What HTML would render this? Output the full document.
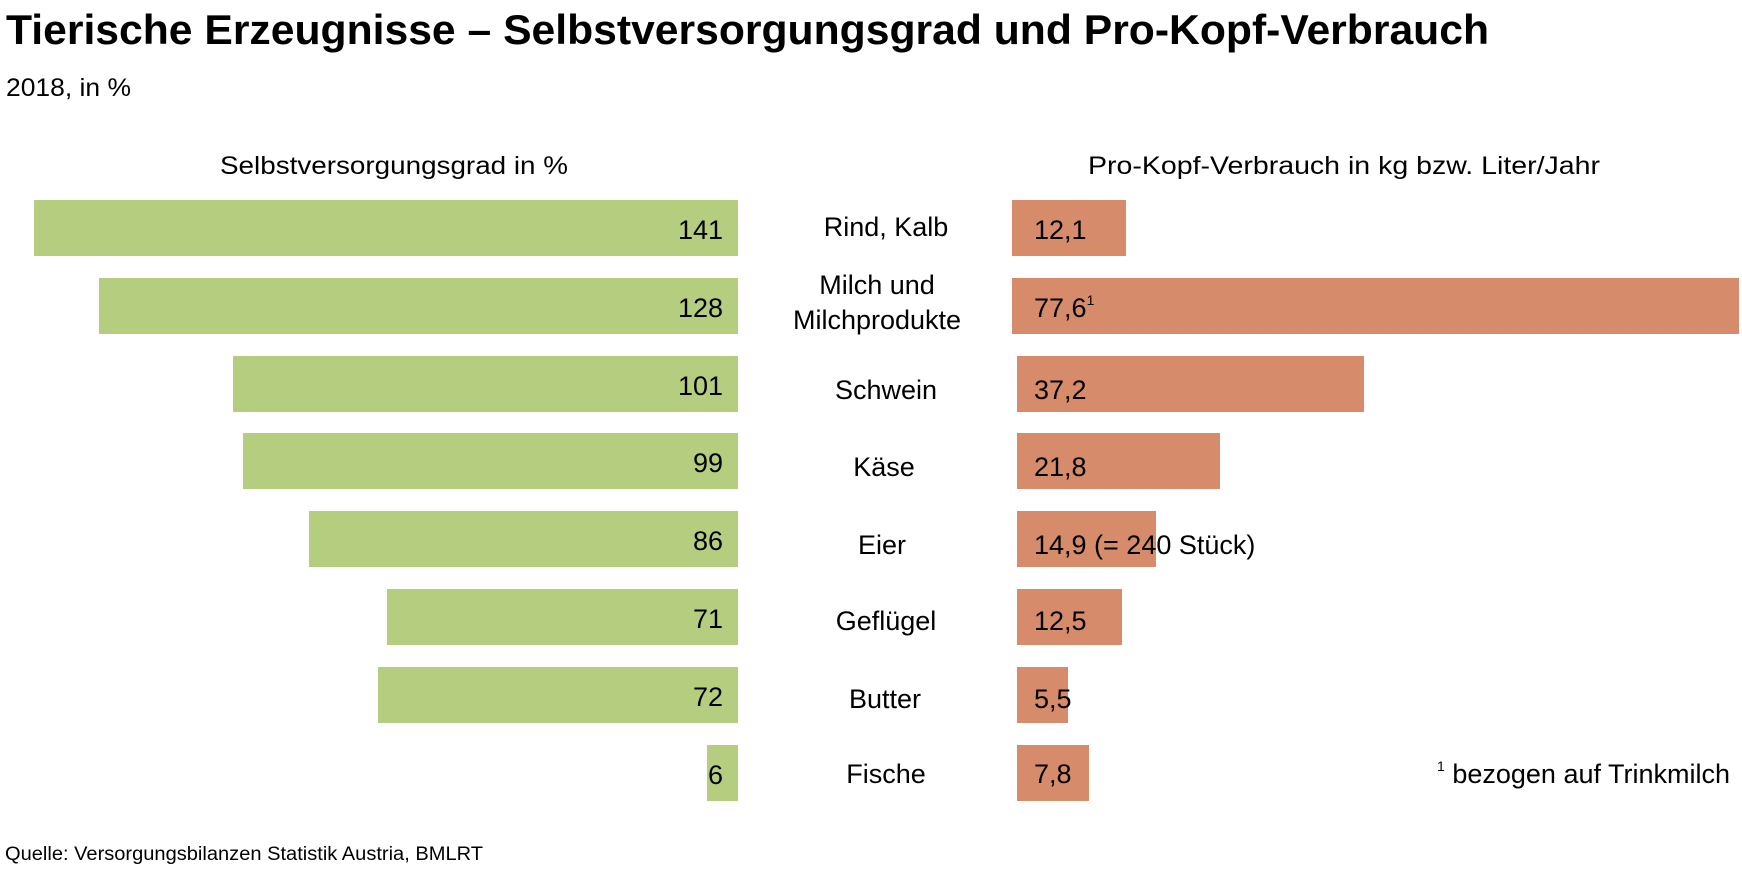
<!DOCTYPE html>
<html><head><meta charset="utf-8"><style>
html,body{margin:0;padding:0;background:#fff;}
svg text{font-family:"Liberation Sans",sans-serif;fill:#000;}
</style></head><body>
<svg width="1742" height="867" viewBox="0 0 1742 867" xmlns="http://www.w3.org/2000/svg">
<text x="6" y="44" font-size="42" font-weight="bold" textLength="1483" lengthAdjust="spacingAndGlyphs">Tierische Erzeugnisse – Selbstversorgungsgrad und Pro-Kopf-Verbrauch</text>
<text x="6" y="96" font-size="25" textLength="125" lengthAdjust="spacingAndGlyphs">2018, in %</text>
<text x="394" y="174" font-size="25" text-anchor="middle" textLength="348" lengthAdjust="spacingAndGlyphs">Selbstversorgungsgrad in %</text>
<text x="1344" y="174" font-size="25" text-anchor="middle" textLength="512" lengthAdjust="spacingAndGlyphs">Pro-Kopf-Verbrauch in kg bzw. Liter/Jahr</text>
<g fill="#b5cd7f">
<rect x="34" y="200" width="704" height="56"/>
<rect x="99" y="278" width="639" height="56"/>
<rect x="233" y="356" width="505" height="56"/>
<rect x="243" y="433" width="495" height="56"/>
<rect x="309" y="511" width="429" height="56"/>
<rect x="387" y="589" width="351" height="56"/>
<rect x="378" y="667" width="360" height="56"/>
<rect x="707" y="745" width="31" height="56"/>
</g>
<g fill="#d68b6a">
<rect x="1012" y="200" width="114" height="56"/>
<rect x="1012" y="278" width="727" height="56"/>
<rect x="1017" y="356" width="347" height="56"/>
<rect x="1017" y="433" width="203" height="56"/>
<rect x="1017" y="511" width="139" height="56"/>
<rect x="1017" y="589" width="105" height="56"/>
<rect x="1017" y="667" width="51" height="56"/>
<rect x="1017" y="745" width="72" height="56"/>
</g>
<g font-size="27" text-anchor="end">
<text x="723" y="239">141</text>
<text x="723" y="317">128</text>
<text x="723" y="395">101</text>
<text x="723" y="472">99</text>
<text x="723" y="550">86</text>
<text x="723" y="628">71</text>
<text x="723" y="706">72</text>
<text x="723" y="784">6</text>
</g>
<g font-size="27" text-anchor="middle">
<text x="886" y="236">Rind, Kalb</text>
<text x="877" y="294">Milch und</text>
<text x="877" y="329">Milchprodukte</text>
<text x="886" y="399">Schwein</text>
<text x="884" y="476">Käse</text>
<text x="882" y="554">Eier</text>
<text x="886" y="630">Geflügel</text>
<text x="885" y="708">Butter</text>
<text x="886" y="783">Fische</text>
</g>
<g font-size="27">
<text x="1034" y="239">12,1</text>
<text x="1034" y="317">77,6<tspan font-size="14" dy="-12">1</tspan></text>
<text x="1034" y="399">37,2</text>
<text x="1034" y="476">21,8</text>
<text x="1034" y="554">14,9 (= 240 Stück)</text>
<text x="1034" y="630">12,5</text>
<text x="1034" y="708">5,5</text>
<text x="1034" y="783">7,8</text>
</g>
<text x="1730" y="783" font-size="27" text-anchor="end"><tspan font-size="14" dy="-12">1</tspan><tspan dy="12"> bezogen auf Trinkmilch</tspan></text>
<text x="5" y="860" font-size="19" textLength="478" lengthAdjust="spacingAndGlyphs">Quelle: Versorgungsbilanzen Statistik Austria, BMLRT</text>
</svg>
</body></html>
